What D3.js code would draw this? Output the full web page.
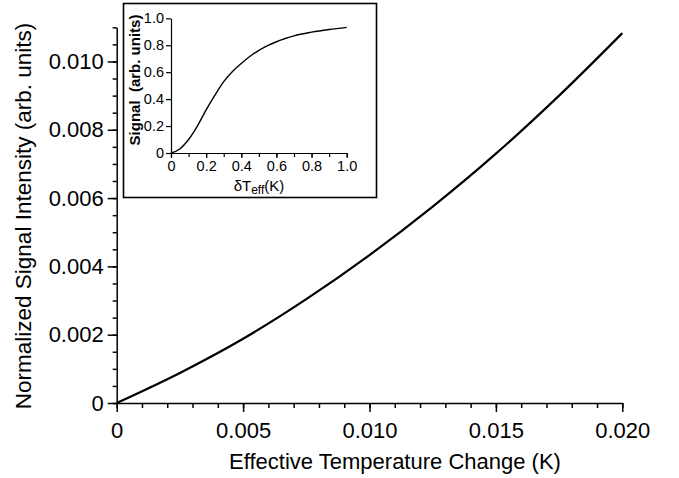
<!DOCTYPE html>
<html>
<head>
<meta charset="utf-8">
<script src="https://cdn.jsdelivr.net/npm/d3@7"></script>
<style>
  html, body { margin: 0; padding: 0; background: #fff; }
  svg { display: block; font-family: "Liberation Sans", Arial, Helvetica, sans-serif; }
</style>
</head>
<body>
<div id="chart"></div>
<script>
/* Main curve: normalized signal vs effective temperature change */
const MAIN_X = [0, 0.0025, 0.005, 0.0075, 0.01, 0.0125, 0.015, 0.0175, 0.02];
const MAIN_Y = [0, 0.00088, 0.00188, 0.00304, 0.00433, 0.00575, 0.0073, 0.0090, 0.01083];
const MAIN_XTICKS = [0, 0.005, 0.010, 0.015, 0.020];
const MAIN_YTICKS = [0, 0.002, 0.004, 0.006, 0.008, 0.010];

/* Inset: full signal curve over 0..1 K */
const INSET_X = [0, 0.05, 0.1, 0.15, 0.2, 0.25, 0.3, 0.35, 0.4, 0.45, 0.5, 0.55, 0.6, 0.65, 0.7, 0.8, 0.9, 1.0];
const INSET_Y = [0, 0.03, 0.1, 0.2, 0.32, 0.43, 0.53, 0.605, 0.665, 0.718, 0.762, 0.797, 0.826, 0.85, 0.87, 0.897, 0.917, 0.933];
const INSET_XTICKS = [0, 0.2, 0.4, 0.6, 0.8, 1.0];
const INSET_YTICKS = [0, 0.2, 0.4, 0.6, 0.8, 1.0];

const W = 679, H = 478;
const svg = d3.select("#chart").append("svg")
  .attr("width", W).attr("height", H)
  .attr("viewBox", `0 0 ${W} ${H}`);

const fmtMain = d => d === 0 ? "0" : d.toFixed(3);
const fmtInset = d => d === 0 ? "0" : d.toFixed(1);

/* ── main axes ── */
const x = d3.scaleLinear().domain([0, 0.02]).range([116.7, 622.3]);
const y = d3.scaleLinear().domain([0, 0.011]).range([403, 27.3]);

function styleAxis(sel, stroke) {
  sel.selectAll("path, line").attr("stroke", "#000").attr("stroke-width", stroke);
}

// minor ticks first, then major with the domain line
const xMinor = d3.range(0, 0.0201, 0.001);
svg.append("g").attr("transform", `translate(0,${y(0)})`)
  .call(d3.axisBottom(x).tickValues(xMinor).tickSize(5).tickFormat(""))
  .call(g => g.select(".domain").remove())
  .call(styleAxis, 1.5);

svg.append("g").attr("transform", `translate(0,${y(0)})`)
  .call(d3.axisBottom(x).tickValues(MAIN_XTICKS).tickSize(9).tickSizeOuter(0).tickPadding(10).tickFormat(fmtMain))
  .call(styleAxis, 1.5)
  .call(g => g.selectAll("text").attr("fill", "#000").style("font-size", "22px"));

const yMinor = d3.range(0, 0.01101, 0.0005);
svg.append("g").attr("transform", `translate(${x(0)},0)`)
  .call(d3.axisLeft(y).tickValues(yMinor).tickSize(4).tickFormat(""))
  .call(g => g.select(".domain").remove())
  .call(styleAxis, 1.5);

svg.append("g").attr("transform", `translate(${x(0)},0)`)
  .call(d3.axisLeft(y).tickValues(MAIN_YTICKS).tickSize(9).tickSizeOuter(0).tickPadding(4).tickFormat(fmtMain))
  .call(styleAxis, 1.5)
  .call(g => g.selectAll("text").attr("fill", "#000").style("font-size", "22px"));

// axis titles
svg.append("text")
  .attr("x", 395).attr("y", 469)
  .attr("text-anchor", "middle")
  .style("font-size", "22px").attr("fill", "#000")
  .text("Effective Temperature Change (K)");

svg.append("text")
  .attr("transform", `translate(31,${216}) rotate(-90)`)
  .attr("text-anchor", "middle")
  .style("font-size", "22.5px").attr("fill", "#000")
  .text("Normalized Signal Intensity (arb. units)");

// main curve
const mainPts = MAIN_X.map((d, i) => [d, MAIN_Y[i]]);
svg.append("path")
  .datum(mainPts)
  .attr("fill", "none").attr("stroke", "#000").attr("stroke-width", 2.2)
  .attr("d", d3.line().x(d => x(d[0])).y(d => y(d[1])).curve(d3.curveMonotoneX));

/* ── inset ── */
svg.append("rect")
  .attr("x", 123.5).attr("y", 3.5).attr("width", 253).attr("height", 194)
  .attr("fill", "#fff").attr("stroke", "#000").attr("stroke-width", 1.6);

const ix = d3.scaleLinear().domain([0, 1]).range([171, 346.7]);
const iy = d3.scaleLinear().domain([0, 1]).range([153, 18.3]);

svg.append("g").attr("transform", `translate(0,${iy(0)})`)
  .call(d3.axisBottom(ix).tickValues(d3.range(0, 1.01, 0.1)).tickSize(4).tickFormat(""))
  .call(g => g.select(".domain").remove())
  .call(styleAxis, 1.2);

svg.append("g").attr("transform", `translate(0,${iy(0)})`)
  .call(d3.axisBottom(ix).tickValues(INSET_XTICKS).tickSize(5).tickSizeOuter(0).tickPadding(3).tickFormat(fmtInset))
  .call(styleAxis, 1.2)
  .call(g => g.selectAll("text").attr("fill", "#000").style("font-size", "14.5px"));

svg.append("g").attr("transform", `translate(${ix(0)},0)`)
  .call(d3.axisLeft(iy).tickValues(INSET_YTICKS).tickSize(5).tickSizeOuter(0).tickPadding(2).tickFormat(fmtInset))
  .call(styleAxis, 1.2)
  .call(g => g.selectAll("text").attr("fill", "#000").style("font-size", "14.5px"));

// inset titles
const ixl = svg.append("text")
  .attr("x", 259).attr("y", 191)
  .attr("text-anchor", "middle")
  .style("font-size", "15px").attr("fill", "#000");
ixl.append("tspan").text("δT");
ixl.append("tspan").attr("dy", 3).style("font-size", "12px").text("eff");
ixl.append("tspan").attr("dy", -3).text("(K)");

svg.append("text")
  .attr("transform", `translate(140,${80}) rotate(-90)`)
  .attr("text-anchor", "middle")
  .style("font-size", "15px").style("font-weight", "bold").attr("fill", "#000")
  .attr("xml:space", "preserve").style("white-space", "pre")
  .text("Signal  (arb. units)");

// inset curve
const insetPts = INSET_X.map((d, i) => [d, INSET_Y[i]]);
svg.append("path")
  .datum(insetPts)
  .attr("fill", "none").attr("stroke", "#000").attr("stroke-width", 1.4)
  .attr("d", d3.line().x(d => ix(d[0])).y(d => iy(d[1])).curve(d3.curveMonotoneX));
</script>
</body>
</html>
